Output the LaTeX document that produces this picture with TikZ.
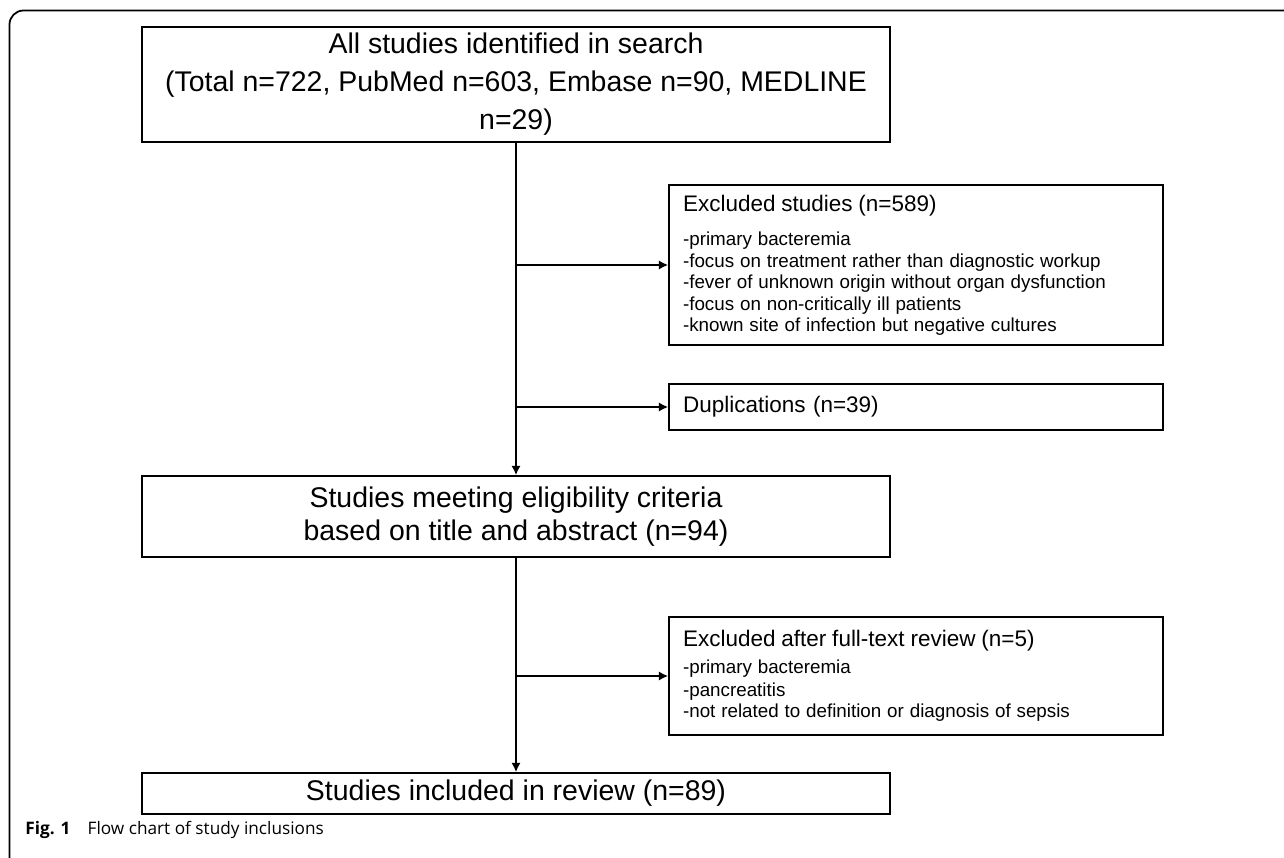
\documentclass[tikz,border=0pt]{standalone}
\usepackage{fontspec}
\setmainfont{Liberation Sans}
\newfontfamily\capfont{Open Sans}
\usetikzlibrary{arrows.meta}

\newcommand\boxfont[1]{\fontsize{16.2pt}{#1}\selectfont}
\newcommand\headfont{\fontsize{12.8pt}{15pt}\selectfont}
\newcommand\listfont[1]{\fontsize{10.7pt}{#1}\selectfont}

\begin{document}
\begin{tikzpicture}
        [
            x                = 0.02cm,
            y                = -0.02cm,
            mainbox/.style   = {shape=rectangle, draw, line width=1pt, align=center, inner sep=0pt, minimum width=14.96cm},
            sidebox/.style   = {shape=rectangle, draw, line width=1pt, align=left, inner xsep=0.28cm, inner ysep=0pt, text width=9.32cm},
            conn/.style      = {draw, line width=1pt, -{Latex[length=5.3pt,width=5.3pt]}},
            % every node/.style = {font=\boxfont{18.8pt}}
        ]
        \useasboundingbox (0,0) rectangle (1284,858);
        \draw [line width=1pt, rounded corners=0.28cm] (9.5,858) -- (9.5,10.5) -- (1284,10.5);

        \node (srch) [mainbox, minimum height=2.3cm, font=\boxfont{21.6pt}] at (516,84.5)
            {All studies identified in search\\(Total n=722, PubMed n=603, Embase n=90, MEDLINE\\n=29)};
        \node (excl) [sidebox, minimum height=3.2cm] at (916,265)
            {{\headfont Excluded studies (n=589)}\\[7.7pt]
             \listfont{12.2pt}-primary bacteremia\\
             -focus on treatment rather than diagnostic workup\\
             -fever of unknown origin without organ dysfunction\\
             -focus on non-critically ill patients\\
             -known site of infection but negative cultures};
        \node (dupl) [sidebox, minimum height=0.92cm, font=\headfont] at (916,407) {Duplications (n=39)};
        \node (elig) [mainbox, minimum height=1.62cm, font=\boxfont{18.8pt}] at (516,516.5)
            {Studies meeting eligibility criteria\\based on title and abstract (n=94)};
        \node (full) [sidebox, minimum height=2.36cm] at (916,676)
            {{\headfont Excluded after full-text review (n=5)}\\[2pt]
             \listfont{13.2pt}-primary bacteremia\\
             -pancreatitis\\
             -not related to definition or diagnosis of sepsis};
        \node (incl) [mainbox, minimum height=0.82cm, font=\boxfont{18.8pt}] at (516,793.5)
            {Studies included in review (n=89)};

        \node (cap) [anchor=base west, inner sep=0pt, font=\capfont\fontsize{9.8pt}{12pt}\selectfont] at (25,834)
            {\textbf{Fig. 1}\hspace{1em}Flow chart of study inclusions};

        \draw [conn] (srch) -- (elig);
        \draw [conn] (srch.south |- excl) -- (excl.west);
        \draw [conn] (srch.south |- dupl) -- (dupl.west);
        \draw [conn] (elig) -- (incl);
        \draw [conn] (elig.south |- full) -- (full.west);
    \end{tikzpicture}
\end{document}
